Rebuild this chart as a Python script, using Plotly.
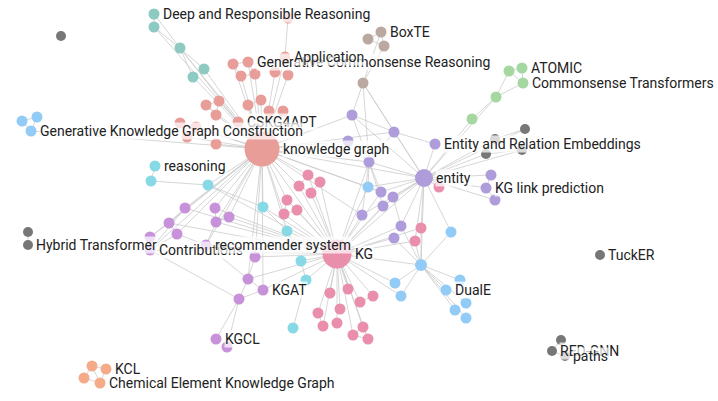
import plotly.graph_objects as go

# node layout (pixel space of the 718x401 canvas)
node_id = [
    "t1", "t2", "t3", "t4", "t5",
    "kgh", "s_gcr", "s1", "s2", "s3", "s4", "s5", "app", "s_top", "s6", "s7", "s8", "cskg",
    "s9", "s10", "s11", "s12", "s13", "s14", "s15", "s16",
    "b1", "b2", "gkgc",
    "g1", "g2", "hyb", "tuck", "g3", "red", "paths", "ge1", "ge2", "pe1", "pe2",
    "reas", "c1", "c2", "c3", "c4", "c5", "c6", "c7",
    "m1", "m2", "m3", "m4", "m5", "m6", "contrib", "m7", "rec", "m8", "m9", "kgat", "m10", "kgcl", "m11",
    "kg", "p1", "p2", "p3", "p4", "p5", "p6", "p7", "p8", "p9", "p10", "p11", "p12", "p13", "p14",
    "p15", "p16", "p17", "p18", "p19", "p20", "p21",
    "ent", "u1", "u2", "ere", "u3", "u4", "u5", "u6", "u7", "u8", "u9", "u10", "u11", "kglp", "u12",
    "lb0", "lb1", "lbh", "lb2", "lb3", "duale", "lb4", "lb5", "lb6", "lb7",
    "gr1", "atomic", "comt", "gr2", "gr3",
    "br1", "boxte", "br2", "br3",
    "o1", "kcl", "o2", "cekg",
]
node_x = [
    154, 154, 180, 204, 193,
    262, 248, 233, 241, 255, 275, 288, 285, 288, 206, 219, 216, 238,
    248, 261, 269, 283, 216, 180, 196, 187,
    22, 37, 31,
    61, 28, 28, 600, 561, 552, 565, 525, 486, 495, 522,
    155, 151, 208, 263, 287, 301, 306, 293,
    185, 215, 169, 216, 229, 177, 150, 150, 206, 255, 248, 263, 239, 216, 227,
    337, 308, 320, 299, 311, 287, 297, 284, 330, 348, 360, 373, 340, 318, 323,
    337, 363, 353, 368, 421, 415, 439,
    424, 352, 394, 435, 369, 348, 381, 393, 383, 362, 401, 394, 491, 486, 495,
    368, 451, 421, 395, 401, 446, 460, 455, 466, 466,
    509, 522, 523, 496, 472,
    368, 381, 384, 363,
    92, 106, 84, 100,
]
node_y = [
    14, 27, 48, 69, 77,
    149, 62, 64, 76, 74, 72, 75, 57, 18, 105, 101, 115, 122,
    105, 100, 111, 111, 144, 123, 127, 137,
    121, 117, 131,
    36, 232, 245, 255, 340, 351, 356, 129, 154, 139, 150,
    166, 181, 185, 207, 231, 261, 280, 328,
    208, 208, 223, 222, 217, 234, 250, 237, 245, 257, 279, 290, 299, 339, 347,
    254, 175, 182, 186, 193, 200, 210, 214, 293, 289, 302, 296, 309, 313, 326,
    323, 327, 335, 339, 228, 241, 187,
    178, 115, 132, 144, 162, 141, 192, 197, 206, 215, 226, 238, 175, 188, 200,
    187, 232, 265, 283, 296, 290, 280, 310, 303, 318,
    71, 68, 83, 97, 119,
    39, 32, 46, 83,
    366, 369, 378, 383,
]
node_group = (
    ["teal"] * 5
    + ["salmon"] * 21
    + ["blue"] * 3
    + ["grey"] * 11
    + ["cyan"] * 8
    + ["magenta"] * 15
    + ["pink"] * 22
    + ["purple"] * 15
    + ["blue"] * 10
    + ["green"] * 5
    + ["brown"] * 4
    + ["orange"] * 4
)

# labels, in drawing order (later ones sit on top)
label_node = ["t1", "s_gcr", "app", "cskg", "gkgc", "kgh", "reas", "hyb", "contrib", "rec", "kg",
              "kgat", "kgcl", "kcl", "cekg", "boxte", "atomic", "comt", "ere", "ent", "kglp",
              "duale", "tuck", "red", "paths"]
label_text = ["Deep and Responsible Reasoning", "Generative Commonsense Reasoning", "Application",
              "CSKG4APT", "Generative Knowledge Graph Construction", "knowledge graph", "reasoning",
              "Hybrid Transformer", "Contributions", "recommender system", "KG", "KGAT", "KGCL",
              "KCL", "Chemical Element Knowledge Graph", "BoxTE", "ATOMIC", "Commonsense Transformers",
              "Entity and Relation Embeddings", "entity", "KG link prediction", "DualE", "TuckER",
              "RED-GNN", "paths"]

edges = [
    ("t1", "t2"), ("t1", "t3"), ("t2", "t3"), ("t3", "t4"), ("t3", "t5"), ("t2", "kgh"), ("t3", "kgh"),
    ("t4", "kgh"), ("t5", "kgh"), ("t3", "cskg"),
    ("s1", "s_gcr"), ("s1", "s2"), ("s_gcr", "s3"), ("s2", "s3"), ("app", "s_top"),
    ("s6", "s7"), ("s6", "s8"), ("s7", "s8"), ("s9", "s10"), ("s14", "s15"), ("s15", "s16"),
    ("b1", "b2"), ("b1", "gkgc"), ("b2", "gkgc"),
    ("g2", "hyb"), ("g3", "red"), ("g3", "paths"), ("red", "paths"), ("ge2", "pe2"), ("ge1", "pe1"),
    ("reas", "c1"), ("c1", "c2"), ("c2", "c3"), ("c6", "c7"), ("c5", "c6"), ("c3", "c4"),
    ("m1", "m3"), ("m3", "m6"), ("m1", "contrib"), ("m2", "m4"), ("m4", "m5"), ("m6", "contrib"),
    ("m3", "m7"), ("m4", "rec"), ("rec", "m9"), ("m8", "m9"), ("m9", "m10"), ("kgat", "m10"),
    ("m10", "kgcl"), ("m10", "m11"), ("m9", "kgat"), ("contrib", "m10"), ("m6", "rec"), ("m7", "contrib"),
    ("p1", "p2"), ("p1", "p3"), ("p3", "p4"), ("p2", "p4"), ("p5", "p6"), ("p6", "p7"), ("p5", "p7"),
    ("p10", "p11"), ("p16", "p17"), ("p16", "p18"), ("p17", "p18"), ("p13", "p14"),
    ("u1", "u2"), ("u2", "ere"), ("u2", "u3"), ("u1", "u3"), ("u3", "u5"), ("u3", "u7"), ("u3", "u8"),
    ("u11", "kglp"), ("kglp", "u12"), ("u4", "u3"), ("u6", "u9"),
    ("gr1", "atomic"), ("gr1", "comt"), ("atomic", "comt"), ("gr1", "gr2"), ("comt", "gr2"), ("gr2", "gr3"),
    ("br1", "boxte"), ("br1", "br2"), ("boxte", "br2"), ("boxte", "br3"), ("br2", "br3"),
    ("br3", "u1"), ("br3", "u2"), ("br3", "u3"),
    ("o1", "kcl"), ("o1", "o2"), ("kcl", "cekg"), ("o2", "cekg"), ("o1", "cekg"),
    ("lb0", "u3"), ("lb0", "u5"),
]
kgh_links = ["s_gcr", "s1", "s2", "s3", "s4", "s5", "app", "s6", "s7", "s8", "cskg", "s9", "s10", "s11",
             "s12", "s13", "s14", "s15", "s16", "c2", "c3", "c4", "m1", "m2", "m3", "m4", "m5", "m6",
             "m7", "contrib", "rec", "m8", "m9", "kgat", "p1", "p3", "p5", "p7", "kg", "ent", "u1",
             "u2", "u3", "u4", "u5", "u8", "lb0", "gkgc"]
kg_links = ["p1", "p2", "p3", "p4", "p5", "p6", "p7", "p8", "p9", "p10", "p11", "p12", "p13", "p14",
            "p15", "p16", "p17", "p18", "p19", "p20", "c2", "c3", "c4", "c5", "c6", "m2", "m4", "m5",
            "m8", "m9", "kgat", "rec", "contrib", "m3", "u3", "u5", "u6", "u7", "u8", "u9", "u10",
            "lb0", "lb2", "lb3", "lbh", "ent", "m1"]
ent_links = ["u1", "u2", "ere", "u3", "u5", "u6", "u7", "u8", "u9", "u11", "kglp", "u12", "gr2", "gr3",
             "ge1", "ge2", "pe1", "pe2", "lbh", "lb1", "br3", "p19", "p20", "p21", "lb0"]
lbh_links = ["lb1", "lb2", "lb3", "duale", "lb4", "lb5", "lb6", "lb7", "p19", "u9", "u10", "p20"]
edges += [("kgh", n) for n in kgh_links] + [("kg", n) for n in kg_links]
edges += [("ent", n) for n in ent_links] + [("lbh", n) for n in lbh_links]

colors = {"teal": "#8ccac2", "salmon": "#e89d99", "blue": "#93cbf7", "grey": "#777777",
          "cyan": "#88d9e6", "magenta": "#c792d9", "pink": "#e98fab", "purple": "#ae9cdb",
          "green": "#a5d8a0", "brown": "#bba9a1", "orange": "#f5ab89"}
big = {"kgh": 35, "kg": 29, "ent": 18, "lbh": 12}

pos = {n: (x, y) for n, x, y in zip(node_id, node_x, node_y)}
sizes = [big.get(n, 11 if node_group[i] != "grey" else 10) for i, n in enumerate(node_id)]

ex, ey = [], []
for a, b in edges:
    ex += [pos[a][0], pos[b][0], None]
    ey += [pos[a][1], pos[b][1], None]

fig = go.Figure()
fig.add_trace(go.Scatter(x=ex, y=ey, mode="lines", line=dict(color="#cccccc", width=0.8),
                         hoverinfo="skip"))
fig.add_trace(go.Scatter(x=node_x, y=node_y, mode="markers", text=node_id, hoverinfo="text",
                         marker=dict(size=sizes, color=[colors[g] for g in node_group],
                                     opacity=1, line=dict(width=0))))

for n, t in zip(label_node, label_text):
    i = node_id.index(n)
    r = sizes[i] / 2
    fig.add_annotation(x=pos[n][0], y=pos[n][1], text=t, showarrow=False, xanchor="left",
                       yanchor="middle", xshift=r + 2, borderpad=0,
                       bgcolor="rgba(255,255,255,0.72)",
                       font=dict(family="Roboto", size=14, color="#222"))

fig.update_layout(
    width=718, height=401,
    margin=dict(l=0, r=0, t=0, b=0),
    plot_bgcolor="white", paper_bgcolor="white",
    showlegend=False,
    xaxis=dict(range=[0, 718], visible=False),
    yaxis=dict(range=[401, 0], visible=False),
)

fig.write_html("out.html", config={"displayModeBar": False},
               post_script="document.body.style.margin='0px';")
